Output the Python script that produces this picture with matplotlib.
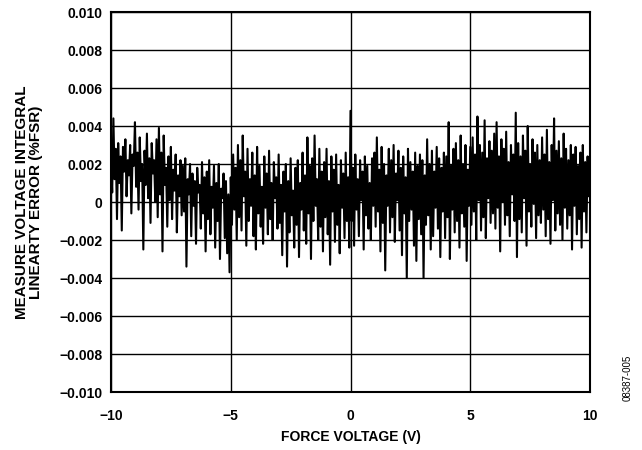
import numpy as np
import matplotlib
matplotlib.use("Agg")
import matplotlib.pyplot as plt

plt.rcParams['font.family'] = ['Liberation Sans', 'DejaVu Sans']

# Force voltage (V), 0.05 V steps from -10 to 10
force_v = np.linspace(-10, 10, 401)

# Integral linearity error, in units of 0.001 %FSR
err_milli = [
    2.1, 0.5, 4.4, 1.2, 2.8, -0.9, 3.1, 1.0, 2.4, -1.5, 2.9, 1.6, 3.3, 0.3, 2.2, 1.4, 3.0, -0.6, 2.5, 1.9,
    4.2, 0.8, 2.6, -0.4, 3.4, 1.1, 2.0, -2.5, 2.7, 0.9, 3.6, 0.2, 2.3, -1.1, 3.1, 1.5, 2.2, 0.0, 3.3, -0.8,
    3.9, 0.4, 2.6, -2.6, 3.5, 0.9, 1.8, -1.3, 2.4, 0.1, 2.9, -0.9, 1.7, 0.6, 2.5, -1.6, 1.4, 0.3, 2.2, -0.7,
    1.9, -0.5, 2.3, -3.4, 1.2, 0.4, 2.0, -1.8, 1.5, -0.2, 1.1, -2.2, 1.8, 0.5, 0.9, -1.4, 2.1, -0.6, 1.3, -2.6,
    1.6, -0.9, 2.2, -1.7, 0.8, -0.3, 1.9, -2.4, 1.0, -1.0, 2.0, -3.0, 0.7, 0.2, 1.5, -1.9, 1.1, -2.7, 0.4, -3.7,
    1.3, -1.2, 2.5, -0.4, 1.8, -2.0, 3.0, -0.8, 2.2, -1.5, 3.5, 0.3, 1.6, -2.3, 2.8, -1.0, 1.2, -0.2, 2.6, -1.8,
    1.4, -2.5, 2.9, -0.6, 1.9, -1.3, 0.8, -2.2, 2.4, -0.3, 1.5, -1.7, 2.7, -0.9, 1.0, -2.0, 2.1, 0.2, 1.3, -1.4,
    2.5, -1.1, 0.9, -2.8, 1.6, -0.5, 2.0, -3.4, 1.1, -1.6, 2.3, -0.7, 0.6, -2.4, 1.8, -1.2, 2.2, -2.9, 1.0, -0.4,
    2.6, -1.5, 1.4, -2.2, 3.4, -0.6, 1.9, -3.0, 2.3, -1.0, 3.5, -0.2, 1.2, -2.0, 2.8, -1.3, 1.6, -2.6, 2.1, -0.8,
    2.8, -1.7, 1.1, -3.3, 2.4, -0.5, 1.7, -2.1, 2.5, -1.2, 0.9, -2.7, 2.2, -0.3, 1.5, -1.9, 2.6, -1.0, 1.3, -2.4,
    4.8, -1.0, 1.8, -2.3, 2.5, -0.4, 1.2, -1.8, 2.2, 0.1, 1.6, -2.5, 2.4, -0.7, 1.9, -1.4, 1.0, -2.0, 2.3, -0.2,
    2.6, -1.3, 3.4, -0.5, 1.7, -2.6, 2.9, -1.1, 2.0, -3.6, 1.4, -0.2, 2.8, -1.6, 2.2, -0.8, 3.0, -2.1, 1.5, 0.1,
    2.7, -1.5, 1.8, -2.8, 2.4, -0.6, 1.3, -4.0, 2.8, -1.0, 2.1, -0.4, 1.6, -2.3, 2.6, -3.1, 1.9, -0.9, 2.5, -1.7,
    2.2, -4.0, 1.4, -1.2, 3.3, -0.7, 2.0, -2.5, 2.7, -1.8, 1.6, -0.3, 2.9, -1.4, 2.3, -2.9, 1.8, -0.5, 2.6, -1.9,
    2.4, -0.8, 4.2, -3.0, 1.9, -0.4, 2.8, -1.6, 3.1, -1.0, 2.2, -2.4, 3.5, -0.6, 2.0, -1.3, 3.0, -3.1, 1.7, -0.2,
    2.9, -1.2, 3.4, -0.5, 2.5, -2.0, 4.5, 0.1, 3.0, -1.5, 2.6, -0.8, 4.3, -1.9, 2.3, 0.2, 3.2, -1.1, 2.7, -0.6,
    3.6, -1.4, 4.2, -0.3, 2.4, -2.6, 3.3, 0.0, 2.8, -1.2, 3.7, -0.7, 2.1, -1.8, 3.0, 0.4, 2.5, -1.0, 4.7, -2.9,
    3.1, -0.9, 2.4, -1.6, 3.5, 0.2, 2.7, -2.3, 4.0, -0.5, 2.0, -1.3, 3.3, -0.1, 2.6, -1.9, 3.0, -0.7, 2.2, -1.1,
    3.4, -0.4, 2.5, -1.8, 3.8, -0.9, 2.1, -2.2, 3.0, 0.1, 4.4, -1.5, 2.7, -0.6, 3.2, -1.2, 2.3, -2.0, 3.6, -0.3,
    2.8, -1.4, 2.2, -0.7, 3.0, -2.5, 2.5, -0.2, 2.9, -1.7, 1.9, -0.9, 2.6, -2.4, 3.0, -0.5, 2.1, -1.6, 2.4, 0.3,
    1.0,
]
error = np.array(err_milli) * 1e-3

x_ticks = [-10, -5, 0, 5, 10]
x_labels = ["\u221210", "\u22125", "0", "5", "10"]
y_ticks = [-0.010, -0.008, -0.006, -0.004, -0.002, 0, 0.002, 0.004, 0.006, 0.008, 0.010]
y_labels = ["\u22120.010", "\u22120.008", "\u22120.006", "\u22120.004", "\u22120.002", "0",
            "0.002", "0.004", "0.006", "0.008", "0.010"]

fig = plt.figure(figsize=(6.42, 4.5), dpi=100)
ax = fig.add_axes([111/642, 58/450, (590-111)/642, (392-12)/450])

ax.plot(force_v, error, color='black', lw=1.5, zorder=3)

ax.set_xlim(-10, 10)
ax.set_ylim(-0.010, 0.010)
ax.set_xticks(x_ticks)
ax.set_xticklabels(x_labels, fontsize=10, fontweight='bold')
ax.set_yticks(y_ticks)
ax.set_yticklabels(y_labels, fontsize=10, fontweight='bold')
ax.tick_params(axis='y', length=0, pad=6)
ax.tick_params(axis='x', length=0, pad=12)
ax.grid(True, color='black', lw=1.0, zorder=1)
for s in ax.spines.values():
    s.set_linewidth(1.5)

ax.set_xlabel("FORCE VOLTAGE (V)", fontsize=10, fontweight='bold', labelpad=5)
ax.set_ylabel("MEASURE VOLTAGE INTEGRAL\nLINEARTY ERROR (%FSR)", fontsize=11,
              fontweight='bold', linespacing=0.95, labelpad=12)

fig.text(0.978, 0.16, "08387-005", rotation=90, fontsize=7,
         ha='center', va='center')

fig.savefig("out.png", dpi=100)
